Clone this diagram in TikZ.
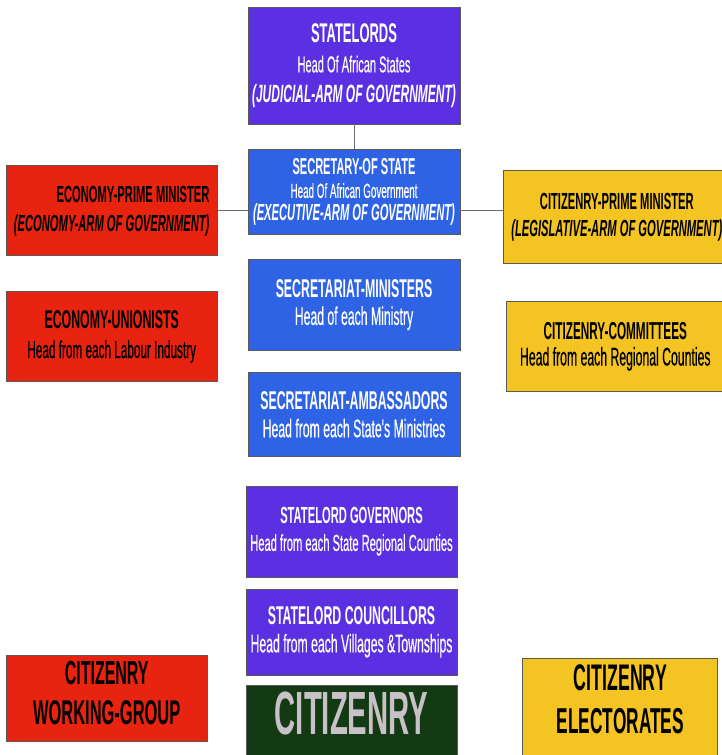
\documentclass[tikz,border=0pt]{standalone}
\usepackage{fontspec}
\setmainfont[FakeStretch=0.48]{Liberation Sans}
\newfontfamily\linefont[FakeStretch=0.48,FakeBold=0.4]{Liberation Sans}
\usepackage{tikz}
\usetikzlibrary{positioning}
\definecolor{lordpurple}{RGB}{90,48,226}
\definecolor{govblue}{RGB}{46,99,230}
\definecolor{econred}{RGB}{232,36,16}
\definecolor{citgold}{RGB}{243,196,34}
\definecolor{citgreen}{RGB}{20,58,20}
\definecolor{citgrey}{RGB}{200,194,200}
\definecolor{linkgrey}{RGB}{110,110,110}
\newcommand{\boxtitle}[2]{{\bfseries\fontsize{#1}{#1}\selectfont #2}}
\newcommand{\boxline}[2]{{\linefont\fontsize{#1}{#1}\selectfont #2}}
\newcommand{\boxarm}[2]{{\bfseries\itshape\fontsize{#1}{#1}\selectfont #2}}

\begin{document}
\begin{tikzpicture}[
    x=1pt, y=-1pt,
    chart/.style={rectangle, draw=black!65, line width=0.8pt, minimum width=212pt, align=center, inner sep=2pt},
    lordbox/.style={chart, fill=lordpurple, text=white},
    govbox/.style={chart, fill=govblue, text=white},
    econbox/.style={chart, fill=econred, text=black, minimum width=211pt},
    citbox/.style={chart, fill=citgold, text=black},
    gap/.style={font=\fontsize{12}{#1}\selectfont},
    link/.style={draw=linkgrey, line width=0.8pt},
]
\useasboundingbox[fill=white] (0,0) rectangle (721,755);
% central column
\node[lordbox, minimum height=117pt, gap=30] (statelords) at (354,65.5)
    {\boxtitle{27}{STATELORDS}\\\boxline{23}{Head Of African States}\\\boxarm{25}{(JUDICIAL-ARM OF GOVERNMENT)}};
\node[govbox, minimum height=85pt, gap=23, below=25pt of statelords] (secstate)
    {\boxtitle{23}{SECRETARY-OF STATE}\\\boxline{20.5}{Head Of African Government}\\\boxarm{23.3}{(EXECUTIVE-ARM OF GOVERNMENT)}};
\node[govbox, minimum height=91pt, gap=27, below=24pt of secstate] (ministers)
    {\boxtitle{25.7}{SECRETARIAT-MINISTERS}\\\boxline{25.5}{Head of each Ministry}};
\node[govbox, minimum height=84pt, gap=28, below=21pt of ministers] (ambassadors)
    {\boxtitle{25.7}{SECRETARIAT-AMBASSADORS}\\\boxline{25.5}{Head from each State's Ministries}};
\node[lordbox, minimum width=211pt, minimum height=91pt, gap=27, below=29pt of ambassadors, xshift=-2.5pt] (governors)
    {\boxtitle{23.3}{STATELORD GOVERNORS}\\\boxline{23.2}{Head from each State Regional Counties}};
\node[lordbox, minimum width=211pt, minimum height=86pt, gap=28, below=11pt of governors] (councillors)
    {\boxtitle{25.7}{STATELORD COUNCILLORS}\\\boxline{25.5}{Head from each Villages \&Townships}};
\node[chart, fill=citgreen, text=citgrey, minimum width=211pt, minimum height=84pt, text depth=30pt, below=10pt of councillors] (citizenry)
    {\boxtitle{61}{CITIZENRY}};
% economy side
\node[econbox, minimum height=90pt, gap=29, align=right, left=30pt of secstate, yshift=-18.5pt] (econpm)
    {\boxtitle{23.3}{ECONOMY-PRIME MINISTER}\\\boxarm{23.3}{(ECONOMY-ARM OF GOVERNMENT)}};
\node[econbox, minimum height=90pt, gap=30, below=35pt of econpm] (unionists)
    {\boxtitle{25.7}{ECONOMY-UNIONISTS}\\\boxline{24.5}{Head from each Labour Industry}};
\node[econbox, minimum width=201pt, minimum height=86pt, gap=40, text depth=11pt, left=38pt of citizenry, yshift=29pt] (working)
    {\boxtitle{33.3}{CITIZENRY}\\\boxtitle{34.3}{WORKING-GROUP}};
% citizenry side
\node[citbox, minimum width=226pt, minimum height=93pt, gap=27, right=43pt of secstate, yshift=-25pt] (citpm)
    {\boxtitle{23.3}{CITIZENRY-PRIME MINISTER}\\\boxarm{23.3}{(LEGISLATIVE-ARM OF GOVERNMENT)}};
\node[citbox, minimum width=217pt, minimum height=90pt, gap=26, below=37pt of citpm, xshift=-1.5pt] (committees)
    {\boxtitle{24.5}{CITIZENRY-COMMITTEES}\\\boxline{25.5}{Head from each Regional Counties}};
\node[citbox, minimum width=195pt, minimum height=98pt, gap=43, text depth=18pt, right=65pt of citizenry, yshift=20pt] (electorates)
    {\boxtitle{37}{CITIZENRY}\\\boxtitle{36}{ELECTORATES}};
% links
\draw[link] (statelords) -- (secstate);
\draw[link] (econpm.east) -- (econpm.east -| secstate.west);
\draw[link] (secstate.east |- econpm.east) -- (citpm.west |- econpm.east);
\end{tikzpicture}
\end{document}
